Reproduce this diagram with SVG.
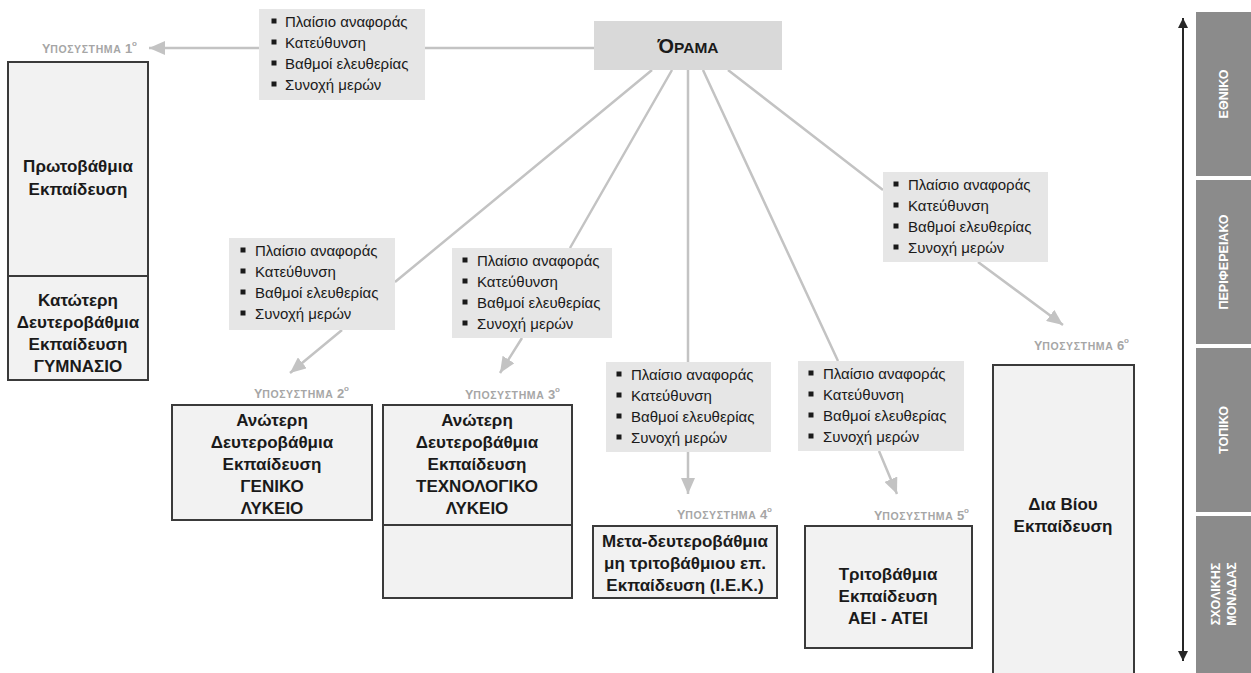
<svg xmlns="http://www.w3.org/2000/svg" width="1251" height="673" viewBox="0 0 1251 673">
<defs>
<style>
text{font-family:"Liberation Sans",Arial,sans-serif}
.box{fill:#f2f2f2;stroke:#3a3a3a;stroke-width:2}
.call{fill:#e6e6e6}
.ct{font-size:15px;fill:#1a1a1a}
.bt{font-size:17px;font-weight:bold;fill:#1a1a1a;text-anchor:middle}
.sub{font-weight:bold;fill:#a6a6a6;text-anchor:end}
.con{fill:none;stroke:#c3c3c3;stroke-width:2.5}
.lvl{fill:#8b8b8b}
.lt{font-size:12.5px;font-weight:bold;fill:#ffffff;text-anchor:middle}
</style>
<marker id="ah" viewBox="0 0 16 14" refX="16" refY="7" markerWidth="16" markerHeight="14" markerUnits="userSpaceOnUse" orient="auto"><path d="M0,0 L16,7 L0,14 z" fill="#c3c3c3"/></marker>
<marker id="bh" viewBox="0 0 10 10" refX="10" refY="5" markerWidth="10" markerHeight="10" markerUnits="userSpaceOnUse" orient="auto-start-reverse"><path d="M0,0 L10,5 L0,10 z" fill="#262626"/></marker>
<g id="bul"><rect x="-2.5" y="-2.5" width="5" height="5" fill="#1a1a1a"/></g>
</defs>
<rect width="1251" height="673" fill="#ffffff"/>

<g id="connectors">
<path class="con" d="M594,48 L149,48" marker-end="url(#ah)"/>
<path class="con" d="M652,70 L395,282 M342,330 L290,373" marker-end="url(#ah)"/>
<path class="con" d="M672,70 L570,248 M522,338 L500,373" marker-end="url(#ah)"/>
<path class="con" d="M688,70 L688,494" marker-end="url(#ah)"/>
<path class="con" d="M703,70 L838,361 M879,451 L897,494" marker-end="url(#ah)"/>
<path class="con" d="M728,70 L883,190 M978,262 L1063,325" marker-end="url(#ah)"/>
</g>

<g id="vision">
<rect x="594" y="21" width="188" height="49" fill="#d9d9d9"/>
<text x="688" y="53" text-anchor="middle" font-weight="bold" fill="#1a1a1a"><tspan font-size="20">Ό</tspan><tspan font-size="15.5">ΡΑΜΑ</tspan></text>
</g>

<g id="callout0">
<rect class="call" x="259" y="9" width="166" height="91"/>
<use href="#bul" x="274" y="21"/><use href="#bul" x="274" y="42"/><use href="#bul" x="274" y="63"/><use href="#bul" x="274" y="84"/>
<text class="ct" x="285" y="27">Πλαίσιο αναφοράς</text>
<text class="ct" x="285" y="48">Κατεύθυνση</text>
<text class="ct" x="285" y="69">Βαθμοί ελευθερίας</text>
<text class="ct" x="285" y="90">Συνοχή μερών</text>
</g>

<g id="callout2">
<rect class="call" x="229" y="238" width="166" height="92"/>
<use href="#bul" x="243" y="250"/><use href="#bul" x="243" y="271"/><use href="#bul" x="243" y="292"/><use href="#bul" x="243" y="313"/>
<text class="ct" x="255" y="256">Πλαίσιο αναφοράς</text>
<text class="ct" x="255" y="277">Κατεύθυνση</text>
<text class="ct" x="255" y="298">Βαθμοί ελευθερίας</text>
<text class="ct" x="255" y="319">Συνοχή μερών</text>
</g>

<g id="callout3">
<rect class="call" x="452" y="248" width="160" height="90"/>
<use href="#bul" x="465" y="260"/><use href="#bul" x="465" y="281"/><use href="#bul" x="465" y="302"/><use href="#bul" x="465" y="323"/>
<text class="ct" x="477" y="266">Πλαίσιο αναφοράς</text>
<text class="ct" x="477" y="287">Κατεύθυνση</text>
<text class="ct" x="477" y="308">Βαθμοί ελευθερίας</text>
<text class="ct" x="477" y="329">Συνοχή μερών</text>
</g>

<g id="callout4">
<rect class="call" x="606" y="362" width="165" height="90"/>
<use href="#bul" x="619" y="374"/><use href="#bul" x="619" y="395"/><use href="#bul" x="619" y="416"/><use href="#bul" x="619" y="437"/>
<text class="ct" x="631" y="380">Πλαίσιο αναφοράς</text>
<text class="ct" x="631" y="401">Κατεύθυνση</text>
<text class="ct" x="631" y="422">Βαθμοί ελευθερίας</text>
<text class="ct" x="631" y="443">Συνοχή μερών</text>
</g>

<g id="callout5">
<rect class="call" x="798" y="361" width="166" height="90"/>
<use href="#bul" x="811" y="373"/><use href="#bul" x="811" y="394"/><use href="#bul" x="811" y="415"/><use href="#bul" x="811" y="436"/>
<text class="ct" x="823" y="379">Πλαίσιο αναφοράς</text>
<text class="ct" x="823" y="400">Κατεύθυνση</text>
<text class="ct" x="823" y="421">Βαθμοί ελευθερίας</text>
<text class="ct" x="823" y="442">Συνοχή μερών</text>
</g>

<g id="callout6">
<rect class="call" x="883" y="172" width="165" height="90"/>
<use href="#bul" x="896" y="184"/><use href="#bul" x="896" y="205"/><use href="#bul" x="896" y="226"/><use href="#bul" x="896" y="247"/>
<text class="ct" x="908" y="190">Πλαίσιο αναφοράς</text>
<text class="ct" x="908" y="211">Κατεύθυνση</text>
<text class="ct" x="908" y="232">Βαθμοί ελευθερίας</text>
<text class="ct" x="908" y="253">Συνοχή μερών</text>
</g>

<g id="subsystem1">
<text class="sub" x="137" y="53"><tspan font-size="12.5">Υ</tspan><tspan font-size="10.5" letter-spacing="0.6">ΠΟΣΥΣΤΗΜΑ </tspan><tspan font-size="13">1</tspan><tspan font-size="8" dy="-7">o</tspan></text>
<rect class="box" x="8" y="62" width="140" height="214"/>
<rect class="box" x="8" y="276" width="140" height="104"/>
<text class="bt" x="78" y="172">Πρωτοβάθμια</text>
<text class="bt" x="78" y="195">Εκπαίδευση</text>
<text class="bt" x="78" y="306">Κατώτερη</text>
<text class="bt" x="78" y="328">Δευτεροβάθμια</text>
<text class="bt" x="78" y="350">Εκπαίδευση</text>
<text class="bt" x="78" y="372">ΓΥΜΝΑΣΙΟ</text>
</g>

<g id="subsystem2">
<text class="sub" x="349" y="398"><tspan font-size="12.5">Υ</tspan><tspan font-size="10.5" letter-spacing="0.6">ΠΟΣΥΣΤΗΜΑ </tspan><tspan font-size="13">2</tspan><tspan font-size="8" dy="-7">o</tspan></text>
<rect class="box" x="172" y="405" width="200" height="115"/>
<text class="bt" x="272" y="426">Ανώτερη</text>
<text class="bt" x="272" y="448">Δευτεροβάθμια</text>
<text class="bt" x="272" y="470">Εκπαίδευση</text>
<text class="bt" x="272" y="492">ΓΕΝΙΚΟ</text>
<text class="bt" x="272" y="514">ΛΥΚΕΙΟ</text>
</g>

<g id="subsystem3">
<text class="sub" x="560" y="399"><tspan font-size="12.5">Υ</tspan><tspan font-size="10.5" letter-spacing="0.6">ΠΟΣΥΣΤΗΜΑ </tspan><tspan font-size="13">3</tspan><tspan font-size="8" dy="-7">o</tspan></text>
<rect class="box" x="383" y="405" width="189" height="120"/>
<rect class="box" x="383" y="525" width="189" height="73"/>
<text class="bt" x="477" y="426">Ανώτερη</text>
<text class="bt" x="477" y="448">Δευτεροβάθμια</text>
<text class="bt" x="477" y="470">Εκπαίδευση</text>
<text class="bt" x="477" y="492">ΤΕΧΝΟΛΟΓΙΚΟ</text>
<text class="bt" x="477" y="514">ΛΥΚΕΙΟ</text>
</g>

<g id="subsystem4">
<text class="sub" x="772" y="519"><tspan font-size="12.5">Υ</tspan><tspan font-size="10.5" letter-spacing="0.6">ΠΟΣΥΣΤΗΜΑ </tspan><tspan font-size="13">4</tspan><tspan font-size="8" dy="-7">o</tspan></text>
<rect class="box" x="593" y="526" width="184" height="72"/>
<text class="bt" x="685" y="547">Μετα-δευτεροβάθμια</text>
<text class="bt" x="685" y="569">μη τριτοβάθμιου επ.</text>
<text class="bt" x="685" y="591">Εκπαίδευση (Ι.Ε.Κ.)</text>
</g>

<g id="subsystem5">
<text class="sub" x="969" y="520"><tspan font-size="12.5">Υ</tspan><tspan font-size="10.5" letter-spacing="0.6">ΠΟΣΥΣΤΗΜΑ </tspan><tspan font-size="13">5</tspan><tspan font-size="8" dy="-7">o</tspan></text>
<rect class="box" x="805" y="526" width="167" height="122"/>
<text class="bt" x="888" y="580">Τριτοβάθμια</text>
<text class="bt" x="888" y="602">Εκπαίδευση</text>
<text class="bt" x="888" y="624">ΑΕΙ - ΑΤΕΙ</text>
</g>

<g id="subsystem6">
<text class="sub" x="1129" y="350"><tspan font-size="12.5">Υ</tspan><tspan font-size="10.5" letter-spacing="0.6">ΠΟΣΥΣΤΗΜΑ </tspan><tspan font-size="13">6</tspan><tspan font-size="8" dy="-7">o</tspan></text>
<rect class="box" x="993" y="365" width="141" height="320"/>
<text class="bt" x="1063" y="510">Δια Βίου</text>
<text class="bt" x="1063" y="532">Εκπαίδευση</text>
</g>

<g id="levels">
<path d="M1183,18 L1183,661" stroke="#262626" stroke-width="2" fill="none" marker-start="url(#bh)" marker-end="url(#bh)"/>
<rect class="lvl" x="1196" y="12" width="55" height="164"/>
<rect class="lvl" x="1196" y="180" width="55" height="164"/>
<rect class="lvl" x="1196" y="348" width="55" height="164"/>
<rect class="lvl" x="1196" y="516" width="55" height="157"/>
<text class="lt" transform="translate(1228,94) rotate(-90)">ΕΘΝΙΚΟ</text>
<text class="lt" transform="translate(1228,262) rotate(-90)">ΠΕΡΙΦΕΡΕΙΑΚΟ</text>
<text class="lt" transform="translate(1228,430) rotate(-90)">ΤΟΠΙΚΟ</text>
<text class="lt" transform="translate(1220,594) rotate(-90)">ΣΧΟΛΙΚΗΣ</text>
<text class="lt" transform="translate(1236,594) rotate(-90)">ΜΟΝΑΔΑΣ</text>
</g>
</svg>
